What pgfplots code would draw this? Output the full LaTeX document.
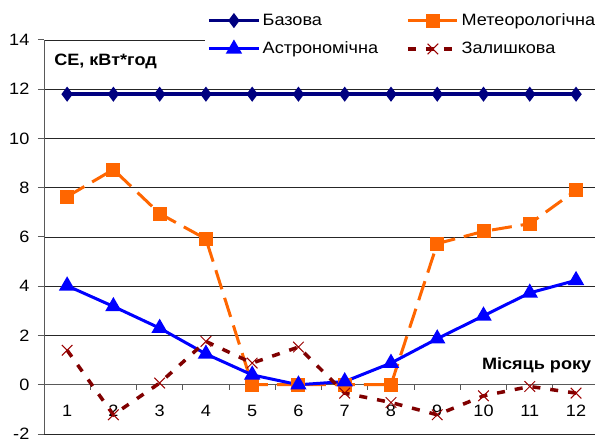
\documentclass[border=0pt]{standalone}
\usepackage{pgfplots}
\pgfplotsset{compat=1.18}
\usepackage{fontspec}
\setmainfont[FakeStretch=1.1]{Liberation Sans}
\definecolor{basecol}{HTML}{000080}
\definecolor{astrocol}{HTML}{0000FF}
\definecolor{meteocol}{HTML}{FF6600}
\definecolor{restcol}{HTML}{800000}

\begin{document}
\fontsize{16.5}{19}\selectfont
\begin{tikzpicture}
\useasboundingbox (0,0) rectangle (595bp,439bp);
\begin{axis}[
    at={(44bp,5bp)}, anchor=south west,
    scale only axis, width=551bp, height=394bp,
    xmin=0.5, xmax=12.41, ymin=-2, ymax=14,
    axis x line*=middle, axis y line*=left,
    axis line style={black!65, line width=1bp},
    xtick={1,...,12},
    minor xtick={1.5,2.5,...,11.5},
    ytick={-2,0,...,14},
    major x tick style={draw=none},
    minor x tick style={black!65, line width=1bp},
    minor tick length=5bp,
    y tick style={black!65, line width=1bp},
    major tick length=6bp,
    tick align=outside,
    ymajorgrids,
    major grid style={black!85, line width=0.8bp},
    xticklabel style={yshift=-9bp},
    yticklabel style={xshift=-3bp},
    /pgf/number format/assume math mode=true,
    clip=false,
    legend columns=2,
    legend cell align=left,
    legend style={at={(axis cs:3.98,15.25)}, anchor=north west, draw=none, fill=white,
        inner sep=2bp, row sep=10bp,
        nodes={inner xsep=2bp},
        /tikz/every even column/.append style={column sep=26bp}},
    legend image code/.code={\draw[mark repeat=2,mark phase=2] plot coordinates {(0bp,0bp) (25bp,0bp) (50bp,0bp)};},
]
\addplot[basecol, line width=3.5bp, mark=diamond*, mark size=4.7bp] coordinates {
    (1,11.8) (2,11.8) (3,11.8) (4,11.8) (5,11.8) (6,11.8) (7,11.8) (8,11.8) (9,11.8) (10,11.8) (11,11.8) (12,11.8)
};
\addlegendentry{Базова}
\addplot[meteocol, line width=3bp, dash pattern=on 20bp off 9bp, mark=square*, mark size=5.5bp, mark options={solid}] coordinates {
    (1,7.64) (2,8.74) (3,6.95) (4,5.92) (5,0) (6,0) (7,0) (8,0) (9,5.73) (10,6.23) (11,6.54) (12,7.9)
};
\addlegendentry{Метеорологічна}
\addplot[astrocol, line width=3bp, mark=triangle*, mark size=6.5bp] coordinates {
    (1,4.02) (2,3.18) (3,2.3) (4,1.25) (5,0.4) (6,0) (7,0.13) (8,0.88) (9,1.87) (10,2.8) (11,3.73) (12,4.24)
};
\addlegendentry{Астрономічна}
\addplot[restcol, line width=3.5bp, dash pattern=on 8bp off 10bp, mark=x, mark size=7.5bp, mark options={solid, line width=1bp, restcol!80!red}] coordinates {
    (1,1.4) (2,-1.22) (3,0.07) (4,1.76) (5,0.88) (6,1.53) (7,-0.34) (8,-0.72) (9,-1.22) (10,-0.45) (11,-0.07) (12,-0.34)
};
\addlegendentry{Залишкова}
\node[anchor=west, font=\bfseries] at (axis cs:0.6,13.13) {СЕ, кВт*год};
\node[anchor=east, font=\bfseries] at (axis cs:12.45,0.81) {Місяць року};
\end{axis}
\end{tikzpicture}
\end{document}
